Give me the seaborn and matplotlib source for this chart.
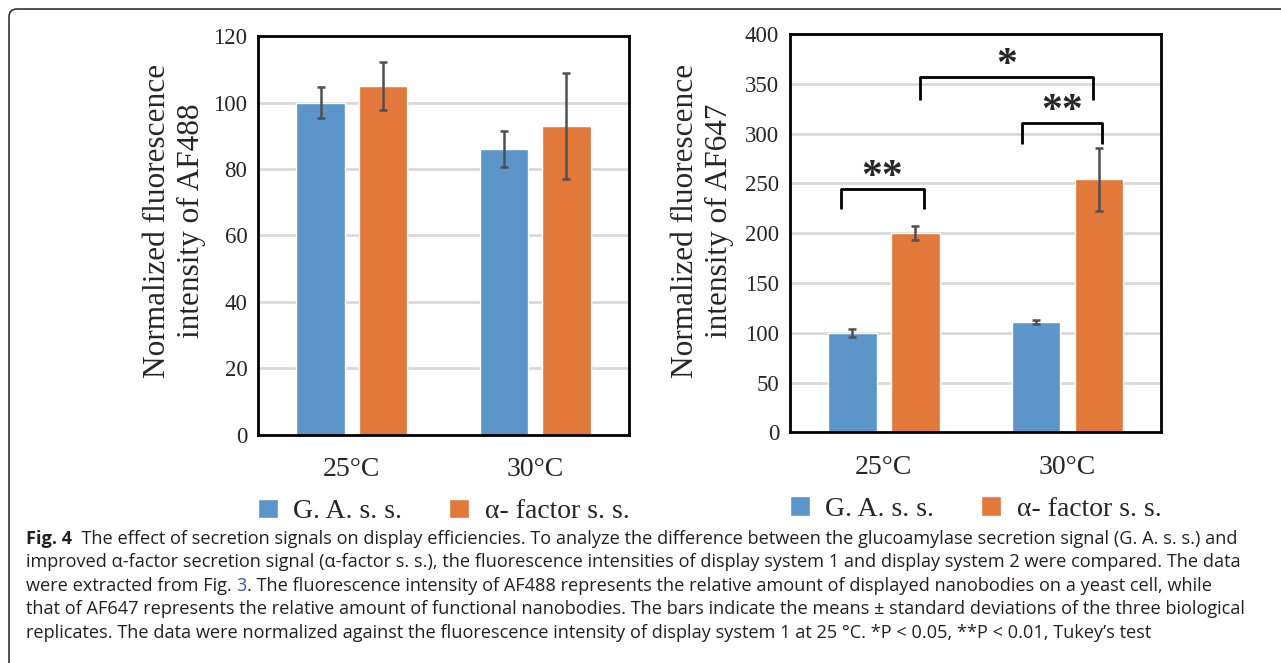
import matplotlib
matplotlib.use("Agg")
import matplotlib.pyplot as plt
import seaborn as sns
import pandas as pd
from matplotlib.patches import FancyBboxPatch
from matplotlib.transforms import IdentityTransform

# --- data ---
temps = ["25°C", "30°C"]
signals = ["G. A. s. s.", "α- factor s. s."]

af488_ga = [100, 86]
af488_ga_sd = [4.7, 5.4]
af488_alpha = [105, 93]
af488_alpha_sd = [7.2, 15.9]

af647_ga = [100, 111]
af647_ga_sd = [4, 1.7]
af647_alpha = [200, 254]
af647_alpha_sd = [7.1, 31.5]

# significance brackets on AF647: (left bar, right bar) as (signal idx, temp idx)
brk_bars = [((0, 0), (1, 0)), ((0, 1), (1, 1)), ((1, 0), (1, 1))]
brk_offsets = [(-0.065, 0.046), (-0.076, 0.019), (0.027, -0.03)]
brk_legs = [(224, 224), (290, 290), (334, 334)]
brk_tops = [244, 311, 357]
brk_labels = ["**", "**", "*"]

colors = ["#5B95CA", "#E2793A"]
serif = "Liberation Serif"

W, H = 1281, 663
fig = plt.figure(figsize=(W / 100, H / 100), dpi=100)
sns.set_style("white")
plt.rcParams["font.family"] = [serif, "DejaVu Serif"]


def make_df(ga, alpha, ga_sd, alpha_sd):
    return pd.DataFrame({
        "temp": temps * 2,
        "signal": [signals[0]] * 2 + [signals[1]] * 2,
        "value": ga + alpha,
        "sd": ga_sd + alpha_sd,
    })


def draw_panel(rect, df, ymax, ystep, ylabel_txt, label_x):
    ax = fig.add_axes(rect)
    sns.barplot(data=df, x="temp", y="value", hue="signal", palette=colors,
                width=0.684, gap=0.225, errorbar=None, saturation=1, ax=ax)
    for cont, sig in zip(ax.containers, signals):
        sub = df[df["signal"] == sig]
        xs = [p.get_x() + p.get_width() / 2 for p in cont]
        ys = [p.get_height() for p in cont]
        ax.errorbar(xs, ys, yerr=sub["sd"].values, fmt="none", ecolor="#505050",
                    elinewidth=1.8, capsize=2.6, capthick=1.8, zorder=4)
    ax.set_xlim(-0.51, 1.51)
    ax.set_ylim(0, ymax)
    ax.set_yticks(range(0, ymax + 1, ystep))
    ax.yaxis.grid(True, color="#d9d9d9", lw=2)
    ax.set_axisbelow(True)
    for s in ax.spines.values():
        s.set_visible(True)
        s.set_color("black")
        s.set_linewidth(2)
    ax.tick_params(axis="y", length=0, pad=8, labelsize=16.5)
    ax.tick_params(axis="x", length=0, pad=16, labelsize=20)
    for lab in ax.get_xticklabels() + ax.get_yticklabels():
        lab.set_fontfamily(serif)
    ax.set_xlabel("")
    ax.set_ylabel("")
    handles, labels = ax.get_legend_handles_labels()
    ax.legend(handles, labels, loc="center", bbox_to_anchor=(0.5, -0.193), ncol=2,
              frameon=False, prop={"family": serif, "size": 20},
              handlelength=0.72, handleheight=0.72, handletextpad=0.55,
              columnspacing=1.7)
    fig.text(label_x / W, 1 - 221 / H, ylabel_txt, rotation=90, ha="center", va="center",
             multialignment="center", fontsize=22.5, family=serif, linespacing=1.25)
    return ax


ax1 = draw_panel([258.4 / W, (H - 434.6) / H, 370.2 / W, 398.3 / H],
                 make_df(af488_ga, af488_alpha, af488_ga_sd, af488_alpha_sd),
                 120, 20, "Normalized fluorescence\nintensity of AF488", 174.5)
ax2 = draw_panel([790.2 / W, (H - 432.4) / H, 371 / W, 398.4 / H],
                 make_df(af647_ga, af647_alpha, af647_ga_sd, af647_alpha_sd),
                 400, 50, "Normalized fluorescence\nintensity of AF647", 702.5)

# significance brackets
for (a, b), (oa, ob), (la, lb), top, lab in zip(brk_bars, brk_offsets, brk_legs, brk_tops, brk_labels):
    pa = ax2.containers[a[0]][a[1]]
    pb = ax2.containers[b[0]][b[1]]
    xa = pa.get_x() + pa.get_width() / 2 + oa
    xb = pb.get_x() + pb.get_width() / 2 + ob
    ax2.plot([xa, xa, xb, xb], [la, top, top, lb], color="black", lw=2,
             solid_joinstyle="round", solid_capstyle="butt", zorder=5)
    ax2.text((xa + xb) / 2, top + 1, lab, ha="center", va="baseline",
             fontsize=30, fontweight="bold", family=serif)

# rounded frame of the figure panel
frame = FancyBboxPatch((9, -30), 1400, H - 9 + 30, boxstyle="round,pad=0,rounding_size=8",
                       transform=IdentityTransform(), fill=False, ec="#222222", lw=1.1)
fig.patches.append(frame)

# caption
cap_font = ["Open Sans", "DejaVu Sans"]
cap_lines = [
    [("Fig. 4", {"fontweight": "bold"}), ("  The effect of secretion signals on display efficiencies. To analyze the difference between the glucoamylase secretion signal (G. A. s. s.) and", {})],
    [("improved α-factor secretion signal (α-factor s. s.), the fluorescence intensities of display system 1 and display system 2 were compared. The data", {})],
    [("were extracted from Fig. ", {}), ("3", {"color": "#2a5db0"}), (". The fluorescence intensity of AF488 represents the relative amount of displayed nanobodies on a yeast cell, while", {})],
    [("that of AF647 represents the relative amount of functional nanobodies. The bars indicate the means ± standard deviations of the three biological", {})],
    [("replicates. The data were normalized against the fluorescence intensity of display system 1 at 25 °C. *P < 0.05, **P < 0.01, Tukey’s test", {})],
]
cap_y = [539, 562, 586, 609, 633]
renderer = fig.canvas.get_renderer()


def advance(txt, kw, size):
    t1 = fig.text(0, 0, txt + "I", fontsize=size, family=cap_font, **kw)
    t2 = fig.text(0, 0, "I", fontsize=size, family=cap_font, **kw)
    w = t1.get_window_extent(renderer).width - t2.get_window_extent(renderer).width
    t1.remove()
    t2.remove()
    return w


base = 10
w1 = sum(advance(t, kw, base) for t, kw in cap_lines[0])
size = base * (1235 - 26) / w1

for parts, y in zip(cap_lines, cap_y):
    x = 26
    for txt, kw in parts:
        kw2 = dict(kw)
        col = kw2.pop("color", "#231f20")
        fig.text(x / W, 1 - y / H, txt, fontsize=size, family=cap_font, color=col,
                 ha="left", va="center", **kw2)
        x += advance(txt, kw, size)

fig.savefig("out.png", dpi=100)
